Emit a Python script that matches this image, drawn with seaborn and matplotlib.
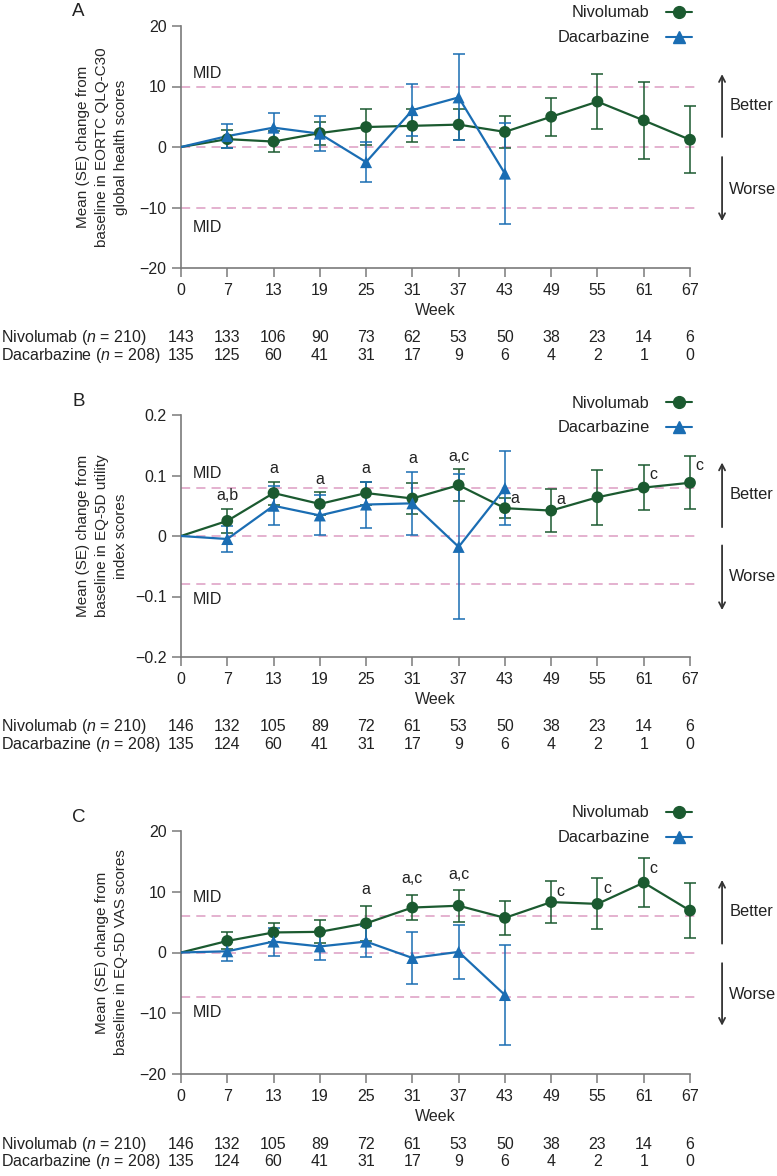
import numpy as np
import pandas as pd
import matplotlib
matplotlib.use("Agg")
import matplotlib.pyplot as plt
import matplotlib.transforms as mtransforms
from matplotlib.lines import Line2D
import seaborn as sns

# week labels (equally spaced on the axis)
weeks = ["0", "7", "13", "19", "25", "31", "37", "43", "49", "55", "61", "67"]

# panel A - EORTC QLQ-C30 global health
niv_A = [0, 1.3, 0.9, 2.3, 3.3, 3.5, 3.7, 2.5, 5.0, 7.5, 4.4, 1.2]
niv_A_se = [0, 1.5, 1.8, 1.9, 2.9, 2.7, 2.6, 2.6, 3.1, 4.6, 6.4, 5.5]
dac_A = [0, 1.8, 3.2, 2.2, -2.5, 6.1, 8.2, -4.4]
dac_A_se = [0, 2.0, 2.4, 2.9, 3.3, 4.3, 7.1, 8.3]

# panel B - EQ-5D utility index
niv_B = [0, 0.025, 0.071, 0.053, 0.071, 0.062, 0.084, 0.046, 0.042, 0.064, 0.080, 0.088]
niv_B_se = [0, 0.020, 0.019, 0.019, 0.019, 0.025, 0.026, 0.016, 0.035, 0.045, 0.037, 0.044]
dac_B = [0, -0.005, 0.050, 0.034, 0.052, 0.054, -0.018, 0.079]
dac_B_se = [0, 0.022, 0.032, 0.033, 0.038, 0.052, 0.120, 0.061]

# panel C - EQ-5D VAS
niv_C = [0, 1.9, 3.3, 3.4, 4.8, 7.4, 7.7, 5.7, 8.3, 8.0, 11.5, 6.9]
niv_C_se = [0, 1.4, 1.5, 1.9, 2.9, 2.1, 2.6, 2.8, 3.4, 4.2, 4.0, 4.5]
dac_C = [0, 0.2, 1.8, 1.0, 1.8, -0.9, 0.1, -7.0]
dac_C_se = [0, 1.6, 2.3, 2.3, 2.6, 4.3, 4.5, 8.2]

# numbers of patients
n_niv_A = [143, 133, 106, 90, 73, 62, 53, 50, 38, 23, 14, 6]
n_niv_BC = [146, 132, 105, 89, 72, 61, 53, 50, 38, 23, 14, 6]
n_dac_A = [135, 125, 60, 41, 31, 17, 9, 6, 4, 2, 1, 0]
n_dac_BC = [135, 124, 60, 41, 31, 17, 9, 6, 4, 2, 1, 0]

# significance letters: (week index, text, placement)
annot_B = [(1, "a,b", "above"), (2, "a", "above"), (3, "a", "above"), (4, "a", "above"),
           (5, "a", "above"), (6, "a,c", "above"), (7, "a", "side"), (8, "a", "right"),
           (10, "c", "right"), (11, "c", "right")]
annot_C = [(4, "a", "above"), (5, "a,c", "above"), (6, "a,c", "above"),
           (8, "c", "right"), (9, "c", "right"), (10, "c", "right")]

GREEN = "#1b5a30"
BLUE = "#1a6db3"
PINK = "#dd9cc2"
GREY = "#7a7a7a"
FS = 11.5

sns.set_theme(style="ticks")
plt.rcParams["font.family"] = ["Liberation Sans", "DejaVu Sans"]
plt.rcParams["mathtext.fontset"] = "custom"
plt.rcParams["mathtext.it"] = "Liberation Sans:italic"
plt.rcParams["mathtext.rm"] = "Liberation Sans"
plt.rcParams["text.color"] = "#222222"

fig = plt.figure(figsize=(7.77, 11.76), dpi=100)
W, H = 777.0, 1176.0


def panel(top, bottom, niv, niv_se, dac, dac_se, n_niv, n_dac, ylim, yticks, yticklabels,
          mid_up, mid_lo, ylabel, letter, better, worse, arr_up, arr_lo, mid_txt, leg_y,
          annots=None, above_off=5):
    ax = fig.add_axes([181 / W, 1 - bottom / H, 509 / W, (bottom - top) / H])
    trans = mtransforms.blended_transform_factory(ax.transAxes, ax.transData)

    rows = []
    for arm, m, s in [("Nivolumab", niv, niv_se), ("Dacarbazine", dac, dac_se)]:
        for i in range(len(m)):
            rows.append({"pos": i, "mean": m[i], "se": s[i], "arm": arm})
    df = pd.DataFrame(rows)
    pal = {"Nivolumab": GREEN, "Dacarbazine": BLUE}

    # MID reference lines
    ax.hlines([mid_up, 0, mid_lo], 0, 11.2, colors=PINK, linestyles=(0, (6, 4)),
              lw=1.1, clip_on=False, zorder=1)
    ax.text(0.25, mid_txt[0], "MID", ha="left", va="center", fontsize=FS)
    ax.text(0.25, mid_txt[1], "MID", ha="left", va="center", fontsize=FS)

    for arm in ["Nivolumab", "Dacarbazine"]:
        d = df[df["arm"] == arm]
        d1 = d[d["pos"] > 0]
        ax.errorbar(d1["pos"], d1["mean"], yerr=d1["se"], fmt="none", ecolor=pal[arm],
                    elinewidth=1.1, capsize=4.3, capthick=1.1, clip_on=False, zorder=2)
        sns.lineplot(data=d, x="pos", y="mean", color=pal[arm], lw=1.6, sort=False,
                     ax=ax, legend=False, zorder=3)
        sns.scatterplot(data=d1, x="pos", y="mean", color=pal[arm],
                        marker="o" if arm == "Nivolumab" else "^",
                        s=72 if arm == "Nivolumab" else 75, edgecolor="none",
                        ax=ax, legend=False, zorder=4, clip_on=False)

    ax.set_xlim(0, 11)
    ax.set_ylim(*ylim)
    ax.set_xticks(range(12))
    ax.set_xticklabels(weeks)
    ax.set_yticks(yticks)
    ax.set_yticklabels(yticklabels)
    ax.tick_params(axis="both", length=6.5, width=1.1, color=GREY, pad=4,
                   labelsize=FS, labelcolor="#222222")
    sns.despine(ax=ax)
    for sp in ["left", "bottom"]:
        ax.spines[sp].set_color(GREY)
        ax.spines[sp].set_linewidth(1.2)
    ax.set_xlabel("Week", fontsize=FS, labelpad=4)
    ax.set_ylabel(ylabel, fontsize=11, linespacing=1.45)
    ax.yaxis.set_label_coords(-0.104, 0.5)

    # significance letters
    if annots:
        for p, txt, where in annots:
            if where == "above":
                tops = [niv[p] + niv_se[p]]
                if p < len(dac):
                    tops.append(dac[p] + dac_se[p])
                ax.annotate(txt, (p, max(tops)), xytext=(0, above_off),
                            textcoords="offset points", ha="center", va="bottom", fontsize=FS)
            elif where == "side":
                ax.annotate(txt, (p, niv[p] + niv_se[p]), xytext=(4, 0),
                            textcoords="offset points", ha="left", va="center", fontsize=FS)
            else:
                ax.annotate(txt, (p, niv[p] + niv_se[p]), xytext=(4, -7),
                            textcoords="offset points", ha="left", va="center", fontsize=FS)

    # better / worse arrows
    arrow = dict(arrowstyle="->,head_length=0.35,head_width=0.18", lw=1.3, color="#333333")
    ax.annotate("", xy=(1.063, arr_up[1]), xytext=(1.063, arr_up[0]), xycoords=trans,
                textcoords=trans, arrowprops=arrow, annotation_clip=False)
    ax.annotate("", xy=(1.063, arr_lo[1]), xytext=(1.063, arr_lo[0]), xycoords=trans,
                textcoords=trans, arrowprops=arrow, annotation_clip=False)
    ax.text(1.077, better, "Better", transform=trans, ha="left", va="center", fontsize=11.8)
    ax.text(1.077, worse, "Worse", transform=trans, ha="left", va="center", fontsize=11.8)

    # legend
    handles = [Line2D([], [], color=GREEN, marker="o", ms=8.5, lw=1.5),
               Line2D([], [], color=BLUE, marker="^", ms=9, lw=1.5)]
    ax.legend(handles, ["Nivolumab", "Dacarbazine"], loc="upper right",
              bbox_to_anchor=(1.004, leg_y), markerfirst=False, frameon=False,
              handlelength=1.6, handletextpad=1.0, labelspacing=0.6, borderpad=0,
              borderaxespad=0, fontsize=11.8)

    # number of patients table
    tr = mtransforms.blended_transform_factory(ax.transData, ax.transAxes)
    trl = mtransforms.blended_transform_factory(fig.transFigure, ax.transAxes)
    ax.text(0.001, -0.289, r"Nivolumab ($n$ = 210)", transform=trl, ha="left",
            va="center", fontsize=FS)
    ax.text(0.001, -0.362, r"Dacarbazine ($n$ = 208)", transform=trl, ha="left",
            va="center", fontsize=FS)
    for i in range(12):
        ax.text(i, -0.289, str(n_niv[i]), transform=tr, ha="center", va="center", fontsize=FS)
        ax.text(i, -0.362, str(n_dac[i]), transform=tr, ha="center", va="center", fontsize=FS)

    fig.text(72 / W, 1 - (top - 14) / H, letter, ha="left", va="center", fontsize=13.5)
    return ax


panel(26, 268, niv_A, niv_A_se, dac_A, dac_A_se, n_niv_A, n_dac_A, (-20, 20),
      [-20, -10, 0, 10, 20], ["\u221220", "\u221210", "0", "10", "20"], 10, -10,
      "Mean (SE) change from\nbaseline in EORTC QLQ-C30\nglobal health scores", "A",
      6.8, -7.0, (1.2, 12.5), (-1.2, -12.7), (12.2, -13.3), 1.085)

panel(415, 657, niv_B, niv_B_se, dac_B, dac_B_se, n_niv_BC, n_dac_BC, (-0.2, 0.2),
      [-0.2, -0.1, 0, 0.1, 0.2], ["\u22120.2", "\u22120.1", "0", "0.1", "0.2"], 0.08, -0.08,
      "Mean (SE) change from\nbaseline in EQ-5D utility\nindex scores", "B",
      0.068, -0.067, (0.010, 0.126), (-0.011, -0.127), (0.104, -0.105), 1.08,
      annots=annot_B, above_off=4)

panel(831, 1074, niv_C, niv_C_se, dac_C, dac_C_se, n_niv_BC, n_dac_BC, (-20, 20),
      [-20, -10, 0, 10, 20], ["\u221220", "\u221210", "0", "10", "20"], 6, -7.3,
      "Mean (SE) change from\nbaseline in EQ-5D VAS scores", "C",
      6.7, -6.9, (1.0, 12.4), (-1.3, -12.5), (9.0, -9.8), 1.105,
      annots=annot_C, above_off=6)

fig.savefig("out.png", dpi=100)
